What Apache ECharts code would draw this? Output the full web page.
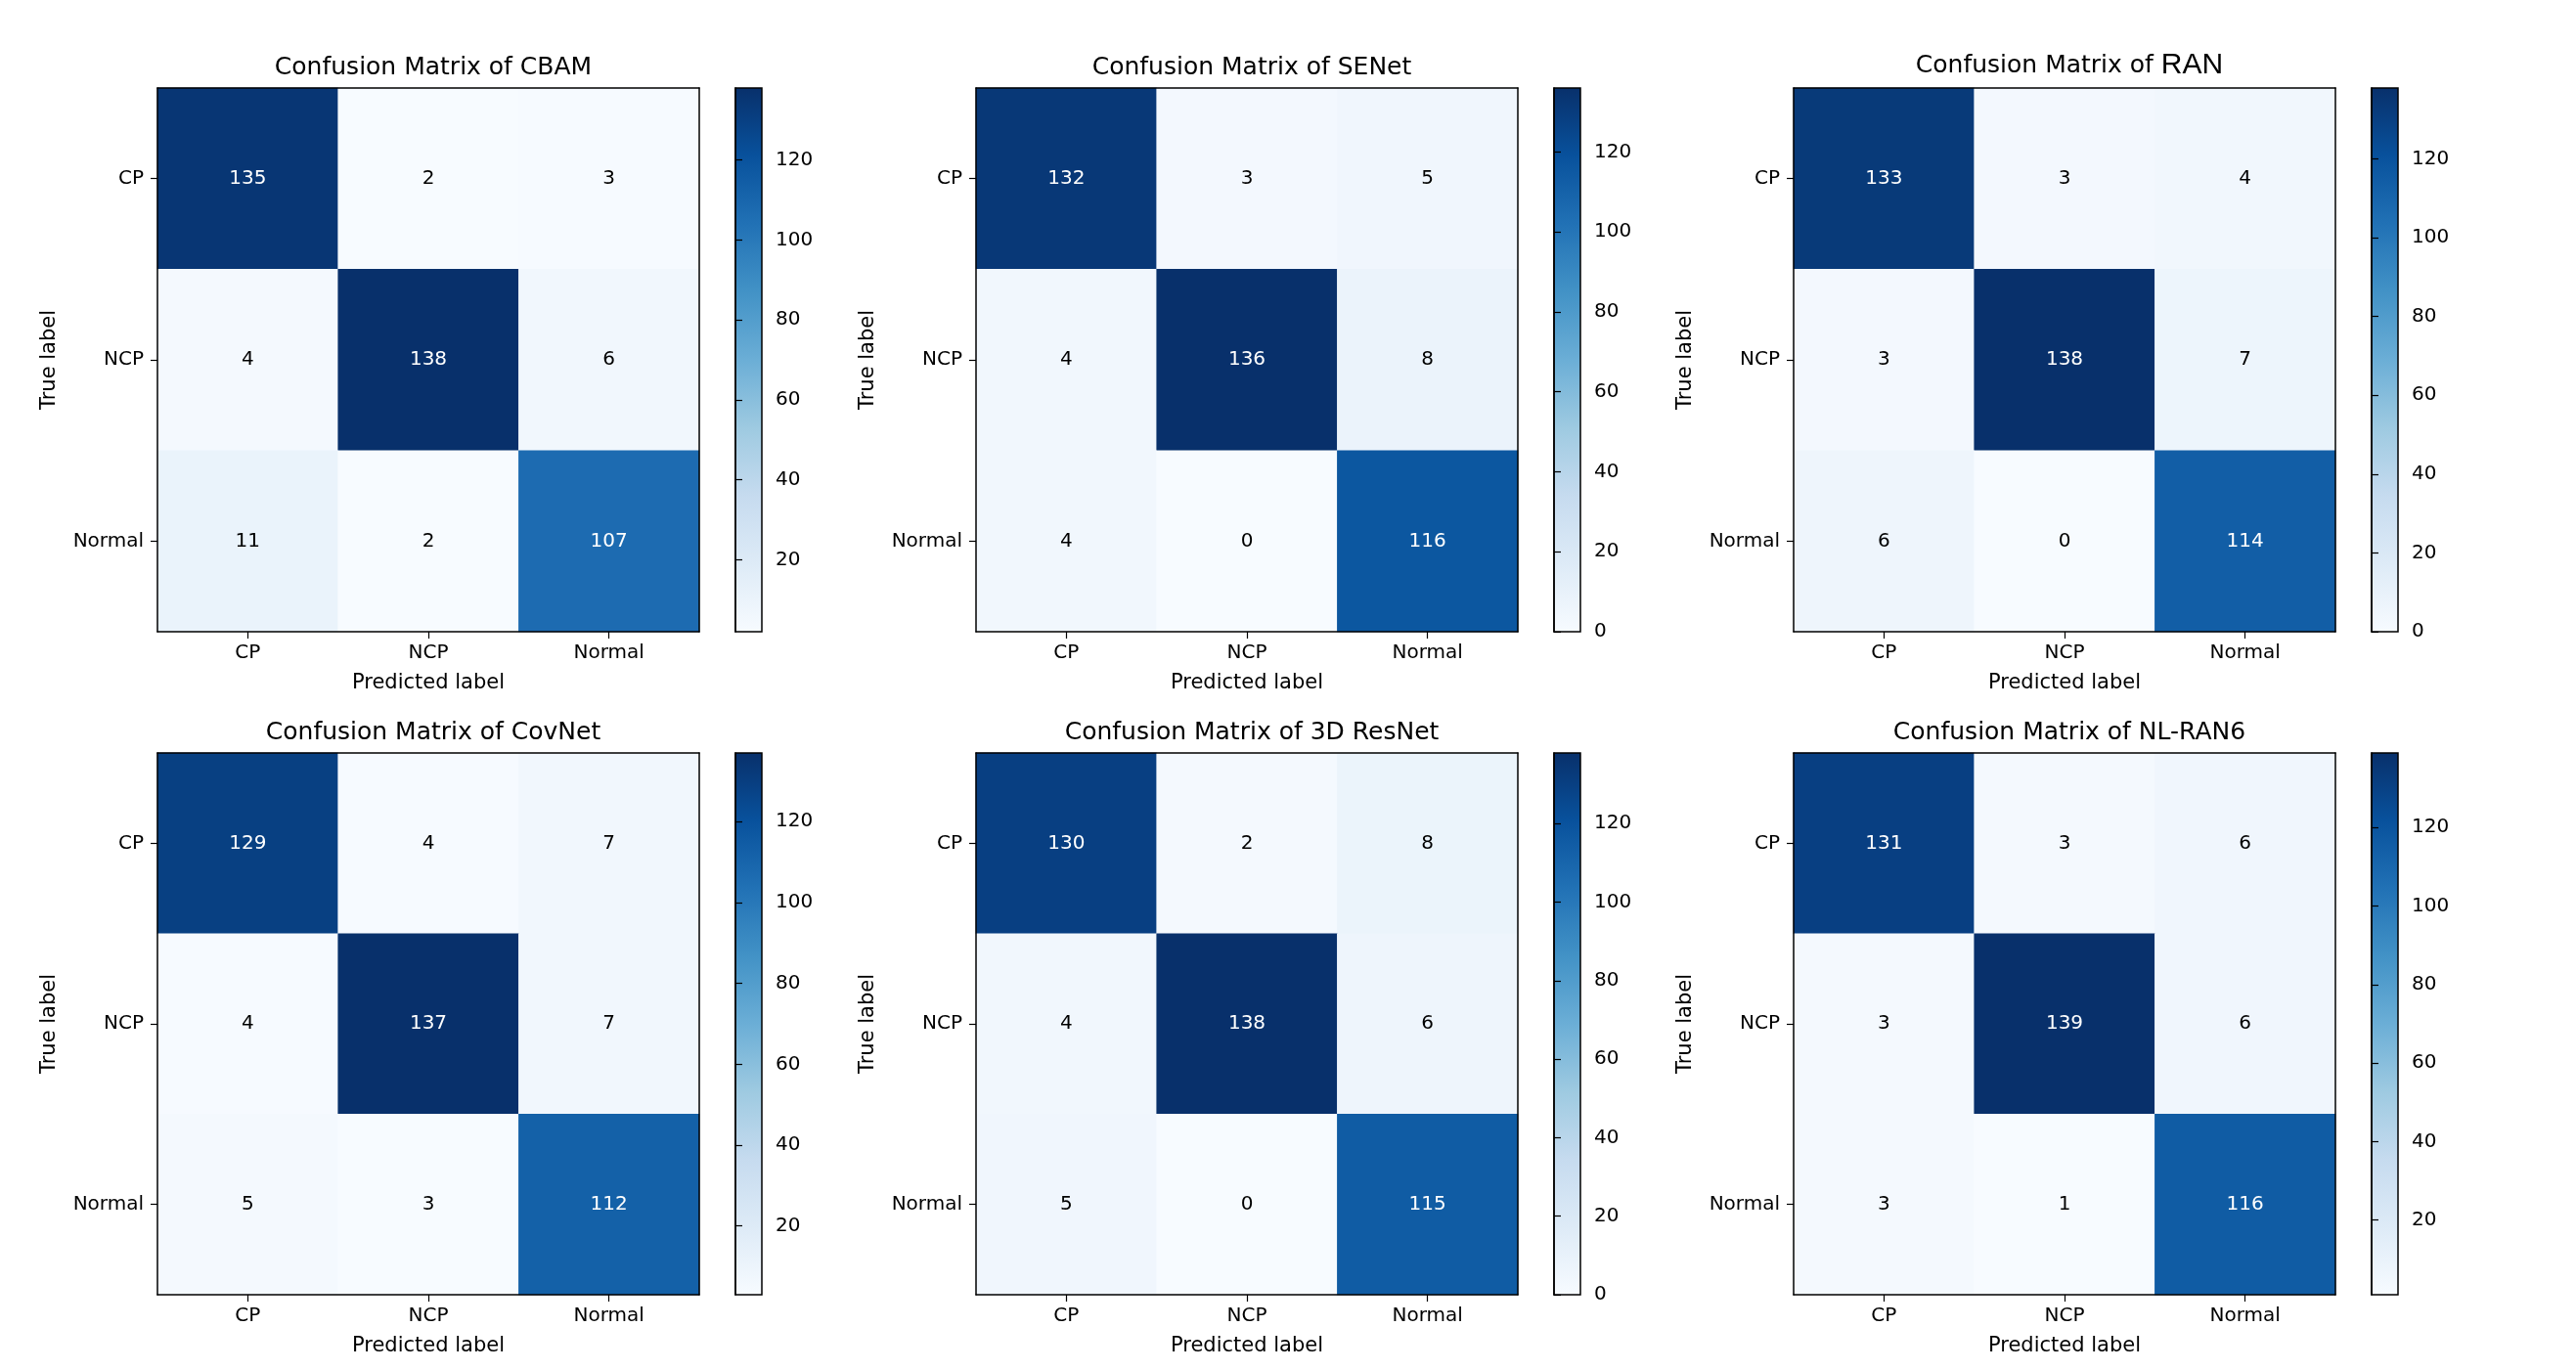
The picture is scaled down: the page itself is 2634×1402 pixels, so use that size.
<!DOCTYPE html>
<html>
<head>
<meta charset="utf-8">
<script src="https://cdn.jsdelivr.net/npm/echarts@6/dist/echarts.min.js"></script>
<style>
html,body{margin:0;padding:0;background:#fff;}
#chart{width:2634px;height:1402px;}
</style>
</head>
<body>
<div id="chart"></div>
<script>
// ---------- data ----------
const classes = ['CP', 'NCP', 'Normal'];
const models = ['CBAM', 'SENet', 'RAN', 'CovNet', '3D ResNet', 'NL-RAN6'];
const cmCBAM     = [[135, 2, 3], [4, 138, 6], [11, 2, 107]];
const cmSENet    = [[132, 3, 5], [4, 136, 8], [4, 0, 116]];
const cmRAN      = [[133, 3, 4], [3, 138, 7], [6, 0, 114]];
const cmCovNet   = [[129, 4, 7], [4, 137, 7], [5, 3, 112]];
const cm3DResNet = [[130, 2, 8], [4, 138, 6], [5, 0, 115]];
const cmNLRAN6   = [[131, 3, 6], [3, 139, 6], [3, 1, 116]];
const matrices = [cmCBAM, cmSENet, cmRAN, cmCovNet, cm3DResNet, cmNLRAN6];
const colorbarTicks = [0, 20, 40, 60, 80, 100, 120, 140];

// ---------- style / layout ----------
const blues = ['#f7fbff', '#deebf7', '#c6dbef', '#9ecae1', '#6baed6', '#4292c6', '#2171b5', '#08519c', '#08306b'];
const FONT = 'DejaVu Sans';
const heatLeft = [161, 998, 1834];
const heatW = 554;
const cbLeft = [752, 1589, 2425];
const cbW = 27;
const rowTop = [90, 770];
const rowH = [556, 554];
const titleTop = [52, 732];

const chart = echarts.init(document.getElementById('chart'), null, {renderer: 'canvas'});

const grid = [], xAxis = [], yAxis = [], series = [], visualMap = [], title = [];
const gradStops = blues.map((c, k) => ({offset: 1 - k / (blues.length - 1), color: c}));

models.forEach((name, i) => {
  const col = i % 3, row = Math.floor(i / 3);
  const m = matrices[i];
  const flat = m.flat();
  const vmin = Math.min(...flat), vmax = Math.max(...flat);
  const top = rowTop[row], h = rowH[row];

  grid.push({left: heatLeft[col], top: top, width: heatW, height: h, containLabel: false});
  grid.push({left: cbLeft[col], top: top, width: cbW, height: h, show: true,
    backgroundColor: {type: 'linear', x: 0, y: 0, x2: 0, y2: 1, colorStops: gradStops},
    borderColor: '#000', borderWidth: 1.5});

  const gH = 2 * i, gC = 2 * i + 1;
  const lineStyle = {color: '#000', width: 1.5};

  xAxis.push({type: 'category', gridIndex: gH, data: classes, position: 'bottom', z: 10,
    axisLine: {show: true, lineStyle}, axisTick: {show: true, alignWithLabel: true, length: 7, lineStyle: {color: '#000', width: 1.2}},
    axisLabel: {fontFamily: FONT, fontSize: 20, color: '#000', margin: 12},
    splitLine: {show: false},
    name: 'Predicted label', nameLocation: 'middle', nameGap: 42,
    nameTextStyle: {fontFamily: FONT, fontSize: 21, color: '#000'}});
  xAxis.push({type: 'category', gridIndex: gH, data: classes, position: 'top', z: 10,
    axisLine: {show: true, lineStyle}, axisTick: {show: false}, axisLabel: {show: false}, splitLine: {show: false}});
  xAxis.push({type: 'value', gridIndex: gC, min: 0, max: 1, show: false});

  yAxis.push({type: 'category', gridIndex: gH, data: classes, inverse: true, position: 'left', z: 10,
    axisLine: {show: true, lineStyle}, axisTick: {show: true, alignWithLabel: true, length: 7, lineStyle: {color: '#000', width: 1.2}},
    axisLabel: {fontFamily: FONT, fontSize: 20, color: '#000', margin: 14},
    splitLine: {show: false},
    name: 'True label', nameLocation: 'middle', nameGap: 100, nameRotate: 90,
    nameTextStyle: {fontFamily: FONT, fontSize: 21, color: '#000'}});
  yAxis.push({type: 'category', gridIndex: gH, data: classes, inverse: true, position: 'right', z: 10,
    axisLine: {show: true, lineStyle}, axisTick: {show: false}, axisLabel: {show: false}, splitLine: {show: false}});
  const ticks = colorbarTicks.filter(t => t >= vmin && t <= vmax);
  yAxis.push({type: 'value', gridIndex: gC, min: vmin, max: vmax, position: 'right', z: 10,
    axisLine: {show: true, lineStyle}, splitLine: {show: false},
    axisTick: {show: true, length: 7, customValues: ticks, lineStyle: {color: '#000', width: 1.2}},
    axisLabel: {customValues: ticks, fontFamily: FONT, fontSize: 20, color: '#000', margin: 14}});

  const data = [];
  m.forEach((rowVals, r) => rowVals.forEach((v, c) => {
    data.push({value: [c, r, v], label: {color: v > vmax / 2 ? '#ffffff' : '#000000'}});
  }));
  series.push({type: 'heatmap', xAxisIndex: 3 * i, yAxisIndex: 3 * i, data,
    label: {show: true, fontFamily: FONT, fontSize: 20},
    emphasis: {disabled: true}});

  visualMap.push({type: 'continuous', seriesIndex: i, min: vmin, max: vmax, show: false,
    dimension: 2, inRange: {color: blues}});

  const cx = heatLeft[col] + heatW / 2;
  if (name === 'RAN') {
    title.push({text: '{a|Confusion Matrix of }{b|' + name + '}', left: cx, top: titleTop[row] - 5, textAlign: 'center',
      textStyle: {fontWeight: 'normal', rich: {
        a: {fontFamily: FONT, fontSize: 25, fontWeight: 'normal', color: '#000'},
        b: {fontFamily: 'Liberation Sans', fontSize: 30, fontWeight: 'normal', color: '#000'}}}});
  } else {
    title.push({text: 'Confusion Matrix of ' + name, left: cx, top: titleTop[row], textAlign: 'center',
      textStyle: {fontFamily: FONT, fontSize: 25, fontWeight: 'normal', color: '#000'}});
  }
});

chart.setOption({
  backgroundColor: '#ffffff',
  animation: false,
  title, grid, xAxis, yAxis, series, visualMap
});
</script>
</body>
</html>
